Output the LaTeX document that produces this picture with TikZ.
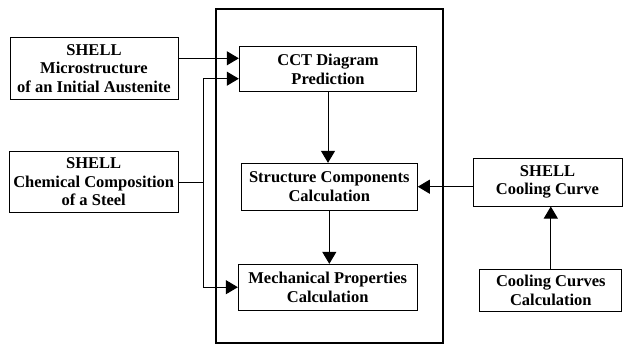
\documentclass[tikz,border=0pt]{standalone}
\usepackage{fontspec}
\setmainfont{Liberation Serif}
\usetikzlibrary{arrows.meta}
\begin{document}
\begin{tikzpicture}[x=1pt,y=-1pt,
  box/.style={draw, line width=1pt, inner sep=0pt, align=center,
    font=\fontsize{16.5}{18.5}\selectfont\bfseries},
  arr/.style={line width=1pt, -{Triangle[length=12pt,width=14pt]}},
  ln/.style={line width=1pt}]
\useasboundingbox (0,0) rectangle (623,345);
\draw[line width=2pt] (216,9.5) rectangle (443,343);
\node[box, minimum width=168pt, minimum height=61.6pt] (micro) at (94,68.5) {SHELL\\Microstructure\\of an Initial Austenite};
\node[box, minimum width=168.7pt, minimum height=61.7pt] (chem) at (93.7,182) {SHELL\\Chemical Composition\\of a Steel};
\node[box, minimum width=177.4pt, minimum height=45.3pt] (cct) at (328,69.3) {CCT Diagram\\Prediction};
\node[box, minimum width=176pt, minimum height=46.7pt] (struct) at (329.3,186.7) {Structure Components\\Calculation};
\node[box, minimum width=178.7pt, minimum height=45.7pt] (mech) at (327.7,287.2) {Mechanical Properties\\Calculation};
\node[box, minimum width=149pt, minimum height=48pt] (scool) at (547.5,182) {SHELL\\Cooling Curve};
\node[box, minimum width=141.7pt, minimum height=41.7pt] (ccalc) at (550.8,290.2) {Cooling Curves\\Calculation};
\coordinate (p) at (0,58.3);
\coordinate (bus) at (203.3,0);
\coordinate (cctlow) at ([yshift=-9.4pt]cct.west);
\draw[arr] (micro.east |- p) -- (cct.west |- p);
\draw[ln, {Triangle[length=12pt,width=14pt]}-{Triangle[length=12pt,width=14pt]}] (cctlow) -| (bus |- mech.west) -- (mech.west);
\draw[ln] (chem.east) -- (chem.east -| bus);
\draw[arr] (cct.south) -- (cct.south |- struct.north);
\draw[arr] (struct.south) -- (struct.south |- mech.north);
\draw[arr] (scool.west |- struct.east) -- (struct.east);
\draw[arr] (ccalc.north) -- (ccalc.north |- scool.south);
\end{tikzpicture}
\end{document}
